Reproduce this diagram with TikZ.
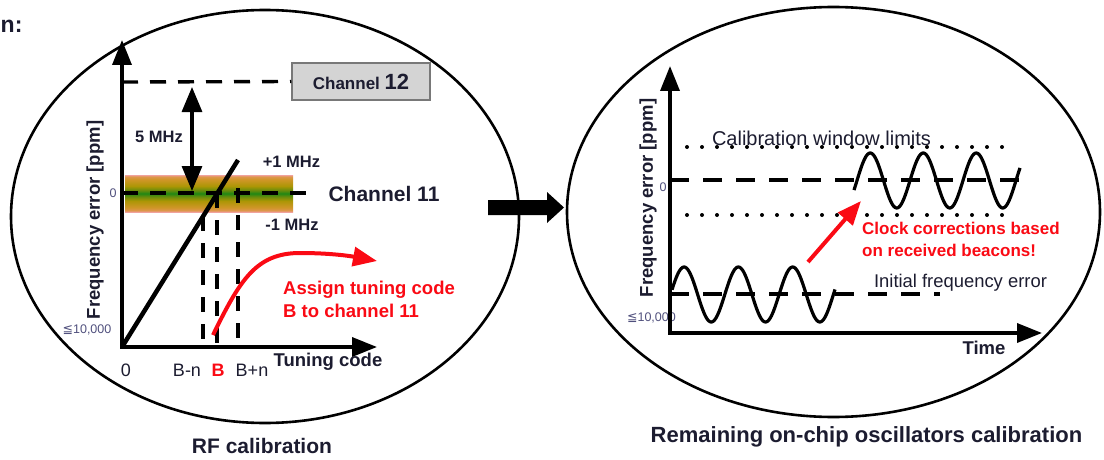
\documentclass[tikz,border=0pt]{standalone}
\usepackage{fontspec}
\setmainfont{Liberation Sans}
\newfontfamily\dejavu{DejaVu Sans}
\usetikzlibrary{arrows.meta}
\definecolor{txt}{RGB}{28,28,48}
\definecolor{redc}{RGB}{250,10,20}
\definecolor{smallc}{RGB}{80,80,125}
\definecolor{bandpink}{RGB}{240,162,158}
\definecolor{bandtan}{RGB}{222,150,80}
\definecolor{bandorange}{RGB}{208,150,40}
\definecolor{bandolive}{RGB}{172,150,5}
\definecolor{bandmid}{RGB}{100,140,12}
\definecolor{bandgreen}{RGB}{32,135,20}
\definecolor{boxfill}{RGB}{212,212,212}
\definecolor{boxdraw}{RGB}{120,120,120}
\pgfdeclareverticalshading{bandshade}{100bp}{color(0bp)=(bandpink); color(25bp)=(bandpink); color(27bp)=(bandtan); color(31bp)=(bandorange); color(40bp)=(bandolive); color(46bp)=(bandmid); color(50bp)=(bandgreen); color(54bp)=(bandmid); color(60bp)=(bandolive); color(69bp)=(bandorange); color(73bp)=(bandtan); color(75bp)=(bandpink); color(100bp)=(bandpink)}
\tikzset{
  axisline/.style={line width=3.5pt,-{Triangle[length=25pt,width=19pt]}},
  dashline/.style={line width=3.4pt,dash pattern=on 16pt off 12pt},
  dashlineb/.style={line width=3.4pt,dash pattern=on 19pt off 14pt},
  vdash/.style={line width=3.4pt,dash pattern=on 15pt off 12pt},
  dotline/.style={line width=4pt,line cap=round,dash pattern=on 0pt off 15pt},
  wave/.style={line width=3.2pt,line join=round},
  ell/.style={line width=2.6pt},
  redarrow/.style={redc,line width=4pt,-{Triangle[length=24pt,width=19pt]}},
  boldlbl/.style={text=txt,inner sep=0pt,font=\bfseries\fontsize{#1}{#1}\selectfont},
  reglbl/.style={text=txt,inner sep=0pt,font=\fontsize{#1}{#1}\selectfont},
  smalllbl/.style={text=smallc,inner sep=0pt,font=\fontsize{12.5}{13}\selectfont},
}
\begin{document}
\begin{tikzpicture}[x=1pt,y=-1pt]
\useasboundingbox (0,0) rectangle (1104,460);

% ---------- title fragment
\node[boldlbl=23,anchor=west] (frag) at (0.5,26) {n:};

% ---------- left panel
\draw[ell] (265,216.5) ellipse [x radius=254, y radius=206.5];

% band
\shade[shading=bandshade] (125,175) rectangle (293,212);

\coordinate (O1) at (122,347);
\coordinate (Y1) at (122,40);
\coordinate (X1) at (377,347);
\coordinate (D1) at (238,160);

% channel 12
\node[draw=boxdraw,fill=boxfill,line width=1.5pt,minimum width=138pt,minimum height=37pt,inner sep=0pt] (ch12) at (361,81.5)
  {\textcolor{txt}{\bfseries\fontsize{17}{17}\selectfont Channel \fontsize{22}{22}\selectfont 12}};
\coordinate (c12s) at (122,82);
\draw[dashline] (c12s) -- (ch12.west);

% channel 11 line
\coordinate (c11s) at (122,193);
\coordinate (c11e) at (313,193);
\draw[dashline] (c11s) -- (c11e);
\node[boldlbl=21] (ch11) at (384,194) {Channel 11};

% vertical dashed lines
\coordinate (bn1) at (203,216);
\coordinate (bn0) at (203,347);
\coordinate (b1) at (217,193);
\coordinate (b0) at (217,347);
\coordinate (bp1) at (238,188);
\coordinate (bp0) at (238,347);
\draw[vdash] (bn1) -- (bn0);
\draw[vdash] (b1) -- (b0);
\draw[vdash] (bp1) -- (bp0);

% diagonal
\draw[line width=4.5pt] (O1) -- (D1);

% axes
\draw[axisline] ([yshift=-1.75pt]O1) -- (Y1);
\draw[axisline] ([xshift=-1.75pt]O1) -- (X1);

% 5 MHz double arrow
\coordinate (da1) at (192,87);
\coordinate (da2) at (192,191);
\draw[line width=3.2pt,{Triangle[length=25pt,width=20pt]}-{Triangle[length=25pt,width=20pt]}] (da1) -- (da2);
\node[boldlbl=16.5] (fivemhz) at (159,137) {5 MHz};
\node[boldlbl=16.5] (p1) at (291.5,162) {+1 MHz};
\node[boldlbl=16.5] (m1) at (292,225) {-1 MHz};

% small labels
\node[smalllbl] (zero1) at (113,193) {0};
\node[smalllbl] (minl) at (87,330) {{\dejavu ≦}10,000};
\node[boldlbl=18.5,rotate=90] (ylab1) at (95,220) {Frequency error [ppm]};

% tick labels
\node[reglbl=18] (t0) at (126,370) {0};
\node[reglbl=18] (tbn) at (187,370) {B-n};
\node[text=redc,inner sep=0pt,font=\bfseries\fontsize{18}{18}\selectfont] (tb) at (218,370) {B};
\node[reglbl=18] (tbp) at (252,370) {B+n};
\node[boldlbl=18.5] (tuning) at (328,362) {Tuning code};

% red curve
\coordinate (rc0) at (213,335);
\coordinate (rc1) at (300,253);
\coordinate (rc2) at (377,261);
\draw[redarrow] (rc0) .. controls (240,280) and (256,253) .. (rc1) .. controls (330,253) and (350,256) .. (rc2);
\node[text=redc,inner sep=0pt,anchor=west,align=left,font=\bfseries\fontsize{18.5}{23}\selectfont] (assign) at (283,299.5) {Assign tuning code\\B to channel 11};

\node[boldlbl=21] (rfcal) at (262,446) {RF calibration};

% ---------- central block arrow
\fill (488,200) -- (547,200) -- (547,192) -- (564,207.5) -- (547,223) -- (547,215) -- (488,215) -- cycle;

% ---------- right panel
\draw[ell] (833.5,212) ellipse [x radius=266.5, y radius=205];

\coordinate (O2) at (670,333);
\coordinate (Y2) at (670,66);
\coordinate (X2) at (1042,333);

% dotted limits
\coordinate (ut0) at (687,147);
\coordinate (ut1) at (1008,147);
\coordinate (lt0) at (687,215);
\coordinate (lt1) at (1008,215);
\draw[dotline] (ut0) -- (ut1);
\draw[dotline] (lt0) -- (lt1);

% zero dashed line
\coordinate (z0) at (670,180);
\coordinate (z1) at (1028,180);
\draw[dashlineb] (z0) -- (z1);
% initial error dashed line
\coordinate (i0) at (670,294);
\coordinate (i1) at (940,294);
\draw[dashlineb] (i0) -- (i1);

% waves
\draw[wave] plot[domain=854:1020,samples=160] (\x,{180.5-27.5*sin((\x-857)*6.79245)});
\draw[wave] plot[domain=672:835,samples=160] (\x,{294.5-27.5*sin((\x-670.5)*6.62983)});

% small labels
\node[smalllbl] (zero2) at (663,187) {0};
\node[smalllbl,anchor=east] (minr) at (676,318) {{\dejavu ≦}10,000};

% axes
\draw[axisline] ([yshift=-1.75pt]O2) -- (Y2);
\draw[axisline] ([xshift=-1.75pt]O2) -- (X2);

\node[boldlbl=18.5,rotate=90] (ylab2) at (648,198) {Frequency error [ppm]};
\node[reglbl=20] (calwin) at (821.5,138) {Calibration window limits};
\node[reglbl=18.4] (initerr) at (960.5,283) {Initial frequency error};
\node[boldlbl=18.5] (time) at (984,348) {Time};

% red arrow and text
\coordinate (ra0) at (808,262);
\coordinate (ra1) at (861,201);
\draw[redarrow] (ra0) -- (ra1);
\node[text=redc,inner sep=0pt,anchor=west,align=left,font=\bfseries\fontsize{17}{22}\selectfont] (clock) at (862,239) {Clock corrections based\\on received beacons!};

\node[boldlbl=22] (remcal) at (866.5,437) {Remaining on-chip oscillators calibration};
\end{tikzpicture}
\end{document}
